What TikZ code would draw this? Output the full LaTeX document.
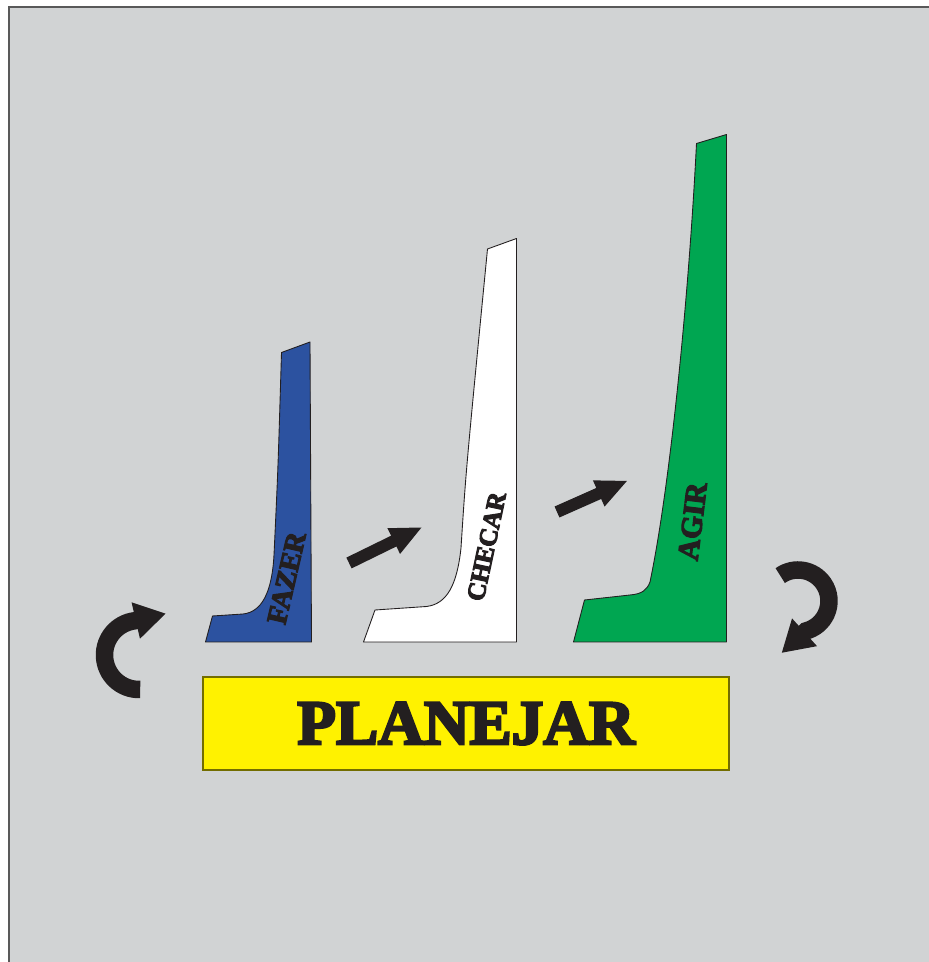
\documentclass[tikz,border=0pt]{standalone}
\usepackage{fontspec}
\setmainfont{Liberation Serif}[BoldFeatures={FakeBold=4}]
\usetikzlibrary{arrows.meta, positioning}
\definecolor{bggray}{RGB}{209,211,212}
\definecolor{doblue}{RGB}{44,82,160}
\definecolor{actgreen}{RGB}{0,166,81}
\definecolor{planyellow}{RGB}{255,242,0}
\definecolor{inkblack}{RGB}{35,31,32}

\begin{document}
\begin{tikzpicture}[
  bar/.style={draw=inkblack, line width=0.5pt, line join=round},
  barlabel/.style={font=\fontsize{#1}{#1}\selectfont\bfseries, text=inkblack, inner sep=0pt},
  flow/.style={inkblack, line width=0.24cm, -{Triangle[length=0.64cm, width=0.52cm]}},
  turn/.style={inkblack, line width=0.35cm, -{Triangle[length=0.62cm, width=0.70cm]}},
  planbox/.style={draw=black!55!planyellow, fill=planyellow, line width=0.6pt, minimum width=10.52cm, minimum height=1.86cm, font=\fontsize{36}{40}\selectfont\bfseries, text=inkblack}
]
  \useasboundingbox (0,0) rectangle (18.58,19.24);
  \fill[white] (0,0) rectangle (18.58,19.24);
  \fill[bggray] (0.18,0) rectangle (18.58,19.10);
  \draw[black!65, line width=1.1pt] (0.18,0) -- (0.18,19.10) -- (18.58,19.10);

  \draw[bar, fill=doblue] (4.11,6.40) -- (4.25,6.92) -- (4.86,6.96)
    .. controls (5.24,7.00) and (5.44,7.40) .. (5.48,8.14)
    .. controls (5.56,9.84) .. (5.63,12.19) -- (6.20,12.40) -- (6.23,6.40) -- cycle;
  \draw[bar, fill=white] (7.27,6.40) -- (7.50,7.04) -- (8.53,7.11)
    .. controls (8.94,7.16) and (9.14,7.54) .. (9.22,8.28)
    .. controls (9.32,9.84) .. (9.75,14.26) -- (10.33,14.47) -- (10.33,6.40) -- cycle;
  \draw[bar, fill=actgreen] (11.47,6.40) -- (11.69,7.24) -- (12.60,7.34)
    .. controls (12.84,7.36) and (12.94,7.44) .. (13.00,7.60)
    .. controls (13.41,9.56) and (13.78,13.38) .. (13.93,16.37) -- (14.53,16.55) -- (14.53,6.40) -- cycle;

  \node[barlabel=16, rotate=77] (fazer) at (5.73,7.68) {FAZER};
  \node[barlabel=14.5, rotate=78] (checar) at (9.73,8.31) {CHECAR};
  \node[barlabel=17, rotate=83] (agir) at (13.85,8.81) {AGIR};

  \coordinate (fazerout) at (6.98,7.98);
  \coordinate (checarin) at (8.45,8.70);
  \coordinate (checarout) at (11.14,9.00);
  \coordinate (agirin) at (12.56,9.63);
  \draw[flow] (fazerout) -- (checarin);
  \draw[flow] (checarout) -- (agirin);

  \node[planbox] (planejar) at (9.32,4.77) {PLANEJAR};

  \coordinate (leftturn) at (2.78,6.14);
  \coordinate (rightturn) at (15.96,7.22);
  \draw[turn] (leftturn) ++(272:0.69) arc[start angle=272, end angle=97, radius=0.69] -- ++(13:0.64);
  \draw[turn] (rightturn) ++(125:0.62) arc[start angle=125, end angle=-75, radius=0.62] -- ++(222:0.66);
\end{tikzpicture}
\end{document}
